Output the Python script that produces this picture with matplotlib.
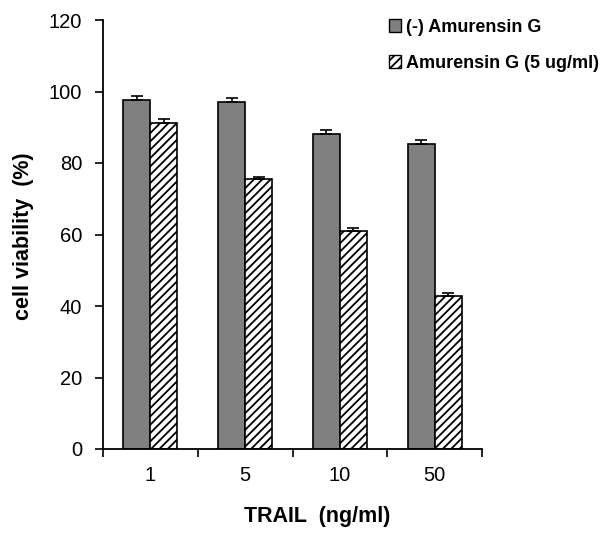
import matplotlib
matplotlib.use("Agg")
import matplotlib.pyplot as plt
import numpy as np
from matplotlib.patches import Patch

plt.rcParams['font.family'] = ['Liberation Sans', 'DejaVu Sans']
plt.rcParams['hatch.linewidth'] = 1.3

categories = ["1", "5", "10", "50"]
control = [97.6, 97.1, 88.1, 85.4]
control_err = [1.1, 1.1, 1.0, 1.0]
treated = [91.3, 75.4, 61.0, 42.8]
treated_err = [1.0, 0.8, 0.85, 0.85]
series_names = ["(-) Amurensin G", "Amurensin G (5 ug/ml)"]
yticks = [0, 20, 40, 60, 80, 100, 120]

fig = plt.figure(figsize=(6.08, 5.33), dpi=100)
ax = fig.add_axes([103/608, 1-449/533, (482-103)/608, (449-20)/533])

x = np.arange(len(categories))
w = 0.285
err_kw = dict(ecolor='black', elinewidth=1.2, capsize=4.5, capthick=1.2)
ax.bar(x - w/2, control, width=w, color='#808080', edgecolor='black', linewidth=1.2,
       yerr=[np.zeros(len(control)), control_err], error_kw=err_kw, label=series_names[0])
ax.bar(x + w/2, treated, width=w, color='white', edgecolor='black', linewidth=1.2,
       hatch='////', yerr=[np.zeros(len(treated)), treated_err], error_kw=err_kw,
       label=series_names[1])

ax.set_xlim(-0.5, len(categories) - 0.5)
ax.set_ylim(0, 120)
ax.set_yticks(yticks)
ax.set_xticks(x)
ax.set_xticklabels(categories)
ax.set_xticks(np.arange(len(categories) + 1) - 0.5, minor=True)
ax.tick_params(axis='x', which='major', length=0, pad=12, labelsize=14.5)
ax.tick_params(axis='x', which='minor', length=6, width=1.2, direction='out')
ax.tick_params(axis='y', length=6, width=1.2, direction='out', labelsize=14.5, pad=9)
for s in ['top', 'right']:
    ax.spines[s].set_visible(False)
for s in ['left', 'bottom']:
    ax.spines[s].set_linewidth(1.3)

ax.set_ylabel("cell viability  (%)", fontweight='bold', fontsize=15.5)
ax.yaxis.set_label_coords(-0.183, 0.495)
ax.set_xlabel("TRAIL  (ng/ml)", fontweight='bold', fontsize=15.5)
ax.xaxis.set_label_coords(0.565, -0.133)

handles = [Patch(facecolor='#808080', edgecolor='black', linewidth=1.0),
           Patch(facecolor='white', edgecolor='black', linewidth=1.0, hatch='////')]
fig.legend(handles, series_names, loc='upper left', bbox_to_anchor=(376/608, 1-6/533),
           frameon=False, handlelength=0.7, handleheight=0.7, handletextpad=0.25,
           borderpad=0.2, labelspacing=1.05, prop={'weight': 'bold', 'size': 13})

fig.savefig("out.png", dpi=100)
